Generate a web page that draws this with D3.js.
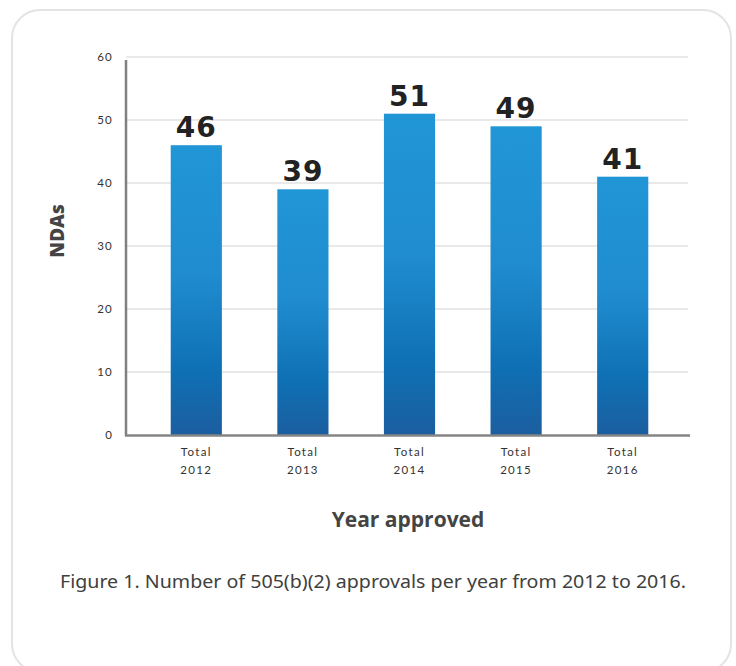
<!DOCTYPE html>
<html>
<head>
<meta charset="utf-8">
<script src="https://cdn.jsdelivr.net/npm/d3@7"></script>
<style>
  body { margin: 0; background: #fff; }
</style>
</head>
<body>
<div id="chart"></div>
<script>
// datos
const years = ["2012", "2013", "2014", "2015", "2016"];
const ndas = [46, 39, 51, 49, 41];
const yTicks = [0, 10, 20, 30, 40, 50, 60];

const W = 736, H = 666;
const svg = d3.select("#chart").append("svg")
    .attr("width", W)
    .attr("height", H);

// tarjeta de fondo
svg.append("rect")
    .attr("x", 12).attr("y", 10)
    .attr("width", 719).attr("height", 662)
    .attr("rx", 28)
    .attr("fill", "#fff")
    .attr("stroke", "#e4e4e4")
    .attr("stroke-width", 2);

const defs = svg.append("defs");
const grad = defs.append("linearGradient")
    .attr("id", "barGrad")
    .attr("x1", 0).attr("y1", 0).attr("x2", 0).attr("y2", 1);
grad.append("stop").attr("offset", "0%").attr("stop-color", "#2196d6");
grad.append("stop").attr("offset", "45%").attr("stop-color", "#1f8ccf");
grad.append("stop").attr("offset", "78%").attr("stop-color", "#0f70b4");
grad.append("stop").attr("offset", "100%").attr("stop-color", "#1b5e9f");

const x = d3.scaleBand()
    .domain(years)
    .range([143, 676])
    .paddingInner(0.52)
    .paddingOuter(0.26);

const y = d3.scaleLinear()
    .domain([0, 60])
    .range([435, 57]);

// lineas de cuadricula
svg.append("g")
    .selectAll("line")
    .data(yTicks.filter(d => d > 0))
    .enter()
    .append("line")
    .attr("x1", 126).attr("x2", 688)
    .attr("y1", d => y(d)).attr("y2", d => y(d))
    .attr("stroke", "#e2e2e2")
    .attr("stroke-width", 1.3);

// eje Y
const gY = svg.append("g")
    .attr("transform", "translate(126,0)")
    .call(d3.axisLeft(y).tickValues(yTicks).tickSize(0).tickPadding(13));
gY.select(".domain").remove();
gY.selectAll("text")
    .attr("font-family", "Lato, sans-serif")
    .attr("font-size", 11.5)
    .attr("letter-spacing", 1.2)
    .attr("fill", "#333");

// barras
svg.selectAll(".bar")
    .data(ndas)
    .enter()
    .append("rect")
    .attr("class", "bar")
    .attr("x", (d, i) => x(years[i]))
    .attr("y", d => y(d))
    .attr("width", x.bandwidth())
    .attr("height", d => y(0) - y(d))
    .attr("fill", "url(#barGrad)");

// etiquetas de valor
svg.selectAll(".val")
    .data(ndas)
    .enter()
    .append("text")
    .attr("class", "val")
    .attr("x", (d, i) => x(years[i]) + x.bandwidth() / 2)
    .attr("y", d => y(d) - 8)
    .attr("text-anchor", "middle")
    .attr("font-family", "'DejaVu Sans', sans-serif")
    .attr("font-weight", 700)
    .attr("font-size", 28)
    .attr("letter-spacing", 1)
    .attr("fill", "#222")
    .text(d => d);

// lineas de ejes
svg.append("line")
    .attr("x1", 126).attr("x2", 126)
    .attr("y1", 60).attr("y2", 436)
    .attr("stroke", "#808080").attr("stroke-width", 2.5);
svg.append("line")
    .attr("x1", 125).attr("x2", 690)
    .attr("y1", 435.5).attr("y2", 435.5)
    .attr("stroke", "#858585").attr("stroke-width", 2.5);

// etiquetas del eje X
const xl = svg.selectAll(".xl")
    .data(years)
    .enter()
    .append("text")
    .attr("class", "xl")
    .attr("text-anchor", "middle")
    .attr("font-family", "Lato, sans-serif")
    .attr("font-size", 11.5)
    .attr("letter-spacing", 1.3)
    .attr("fill", "#333");
xl.append("tspan")
    .attr("x", d => x(d) + x.bandwidth() / 2)
    .attr("y", 456)
    .text("Total");
xl.append("tspan")
    .attr("x", d => x(d) + x.bandwidth() / 2)
    .attr("y", 474)
    .text(d => d);

// titulos de ejes
svg.append("text")
    .attr("x", 408).attr("y", 527)
    .attr("text-anchor", "middle")
    .attr("font-family", "'Open Sans', sans-serif")
    .attr("font-weight", 700)
    .attr("font-size", 21)
    .attr("fill", "#444")
    .text("Year approved");

svg.append("text")
    .attr("transform", "translate(64,231) rotate(-90)")
    .attr("text-anchor", "middle")
    .attr("font-family", "'Open Sans', sans-serif")
    .attr("font-weight", 800)
    .attr("font-size", 19)
    .attr("fill", "#444")
    .text("NDAs");

// pie de figura
svg.append("text")
    .attr("x", 373).attr("y", 588)
    .attr("text-anchor", "middle")
    .attr("font-family", "'Noto Sans', sans-serif")
    .attr("font-size", 17.5)
    .attr("fill", "#404040")
    .attr("textLength", 626)
    .attr("lengthAdjust", "spacingAndGlyphs")
    .text("Figure 1. Number of 505(b)(2) approvals per year from 2012 to 2016.");
</script>
</body>
</html>
